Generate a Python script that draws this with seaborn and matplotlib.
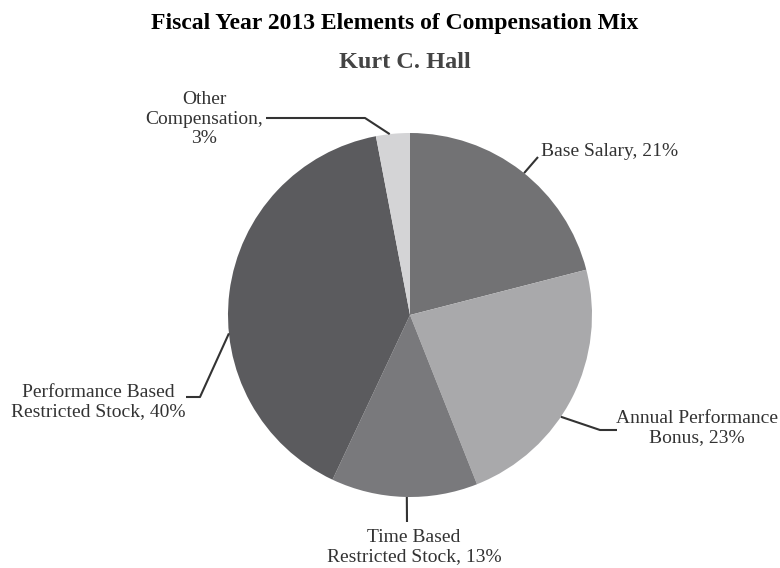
import numpy as np
import matplotlib
matplotlib.use("Agg")
import matplotlib.pyplot as plt
import seaborn as sns

# compensation mix, percent
labels = ["Base Salary", "Annual Performance\nBonus", "Time Based\nRestricted Stock",
          "Performance Based\nRestricted Stock", "Other\nCompensation"]
values = [21, 23, 13, 40, 3]
colors = ["#727274", "#a9a9ab", "#79797c", "#5b5b5e", "#d4d4d6"]

sns.set_style("white")
plt.rcParams["font.family"] = ["Liberation Serif", "DejaVu Serif"]

W, H = 780, 568
cx, cy, R = 410, 315, 182

fig = plt.figure(figsize=(W / 100, H / 100), dpi=100)
ax = fig.add_axes([(cx - R) / W, (H - cy - R) / H, 2 * R / W, 2 * R / H])
wedges, _ = ax.pie(values, colors=colors, startangle=90, counterclock=False,
                   radius=1, wedgeprops=dict(linewidth=0))
ax.set_xlim(-1, 1)
ax.set_ylim(-1, 1)
ax.set_aspect("equal")
ax.axis("off")


def px(x, y):
    # pixel position -> data coords of the pie axes
    return (x - cx) / R, (cy - y) / R


# angle shift from wedge middle, leader elbows, text position, alignment
layout = [
    (-1, [(538, 157)], (541, 152), "left"),
    (-7, [(600, 430), (617, 430)], (697, 428), "center"),
    (0.8, [(407, 522)], (414, 547), "center"),
    (13, [(200, 397), (186, 397)], (98, 402), "center"),
    (1, [(365, 118), (266, 118)], (204, 119), "center"),
]

for w, lab, v, (shift, pts, tpos, ha) in zip(wedges, labels, values, layout):
    mid = np.deg2rad((w.theta1 + w.theta2) / 2 + shift)
    xs = [np.cos(mid)] + [px(*p)[0] for p in pts]
    ys = [np.sin(mid)] + [px(*p)[1] for p in pts]
    ax.plot(xs, ys, color="#333333", lw=1.5, clip_on=False, solid_capstyle="butt")
    if lab.startswith("Other"):
        txt = f"{lab},\n{v}%"
    else:
        txt = f"{lab}, {v}%"
    tx, ty = px(*tpos)
    ax.text(tx, ty, txt, ha=ha, va="center", fontsize=14, color="#333333",
            linespacing=1.2, clip_on=False)

fig.text(395 / W, 1 - 23 / H, "Fiscal Year 2013 Elements of Compensation Mix",
         ha="center", va="center", fontsize=17, fontweight="bold", color="black")
fig.text(405 / W, 1 - 63 / H, "Kurt C. Hall", ha="center", va="center",
         fontsize=17.5, fontweight="bold", color="#444444")

fig.savefig("out.png", dpi=100)
